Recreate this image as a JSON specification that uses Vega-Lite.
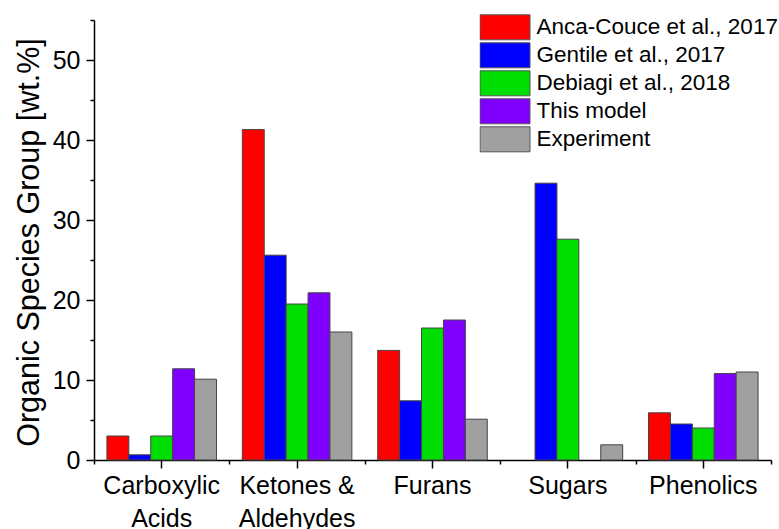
{
  "$schema": "https://vega.github.io/schema/vega-lite/v6.json",
  "width": 677,
  "height": 440,
  "autosize": "none",
  "padding": {"left": 94, "top": 20, "right": 8, "bottom": 69},
  "background": "white",
  "config": {
    "view": {"stroke": null},
    "font": "Liberation Sans",
    "axis": {"grid": false, "domainColor": "black", "tickColor": "black", "labelColor": "black", "titleColor": "black", "domainWidth": 1.5, "tickWidth": 1.5}
  },
  "data": {
    "values": [
      {"group": "Carboxylic Acids", "series": "Anca-Couce et al., 2017", "value": 3.0},
      {"group": "Carboxylic Acids", "series": "Gentile et al., 2017", "value": 0.65},
      {"group": "Carboxylic Acids", "series": "Debiagi et al., 2018", "value": 3.0},
      {"group": "Carboxylic Acids", "series": "This model", "value": 11.4},
      {"group": "Carboxylic Acids", "series": "Experiment", "value": 10.1},
      {"group": "Ketones & Aldehydes", "series": "Anca-Couce et al., 2017", "value": 41.3},
      {"group": "Ketones & Aldehydes", "series": "Gentile et al., 2017", "value": 25.6},
      {"group": "Ketones & Aldehydes", "series": "Debiagi et al., 2018", "value": 19.5},
      {"group": "Ketones & Aldehydes", "series": "This model", "value": 20.9},
      {"group": "Ketones & Aldehydes", "series": "Experiment", "value": 16.0},
      {"group": "Furans", "series": "Anca-Couce et al., 2017", "value": 13.7},
      {"group": "Furans", "series": "Gentile et al., 2017", "value": 7.4},
      {"group": "Furans", "series": "Debiagi et al., 2018", "value": 16.5},
      {"group": "Furans", "series": "This model", "value": 17.5},
      {"group": "Furans", "series": "Experiment", "value": 5.1},
      {"group": "Sugars", "series": "Gentile et al., 2017", "value": 34.6},
      {"group": "Sugars", "series": "Debiagi et al., 2018", "value": 27.6},
      {"group": "Sugars", "series": "Experiment", "value": 1.9},
      {"group": "Phenolics", "series": "Anca-Couce et al., 2017", "value": 5.9},
      {"group": "Phenolics", "series": "Gentile et al., 2017", "value": 4.5},
      {"group": "Phenolics", "series": "Debiagi et al., 2018", "value": 4.0},
      {"group": "Phenolics", "series": "This model", "value": 10.8},
      {"group": "Phenolics", "series": "Experiment", "value": 11.0}
    ]
  },
  "layer": [
    {
      "mark": {"type": "bar", "stroke": "#444444", "strokeWidth": 1},
      "encoding": {
        "x": {
          "field": "group", "type": "nominal",
          "sort": ["Carboxylic Acids", "Ketones & Aldehydes", "Furans", "Sugars", "Phenolics"],
          "scale": {"paddingInner": 0, "paddingOuter": 0},
          "axis": {
            "title": null, "orient": "bottom", "tickSize": 8, "labelFontSize": 25, "labelAngle": 0,
            "labelPadding": 5, "labelLineHeight": 33, "labelBaseline": "top",
            "labelExpr": "datum.value == 'Carboxylic Acids' ? ['Carboxylic', 'Acids'] : datum.value == 'Ketones & Aldehydes' ? ['Ketones &', 'Aldehydes'] : datum.value"
          }
        },
        "xOffset": {
          "field": "series", "type": "nominal",
          "sort": ["Anca-Couce et al., 2017", "Gentile et al., 2017", "Debiagi et al., 2018", "This model", "Experiment"],
          "scale": {"paddingInner": 0, "paddingOuter": 0.59}
        },
        "y": {
          "field": "value", "type": "quantitative",
          "scale": {"domain": [0, 55], "nice": false},
          "axis": {
            "values": [0, 10, 20, 30, 40, 50], "tickSize": 8, "labelFontSize": 25, "labelPadding": 6,
            "title": "Organic Species Group [wt.%]", "titleFontSize": 30.5, "titleFontWeight": "normal",
            "titleX": -65, "titleY": 222, "titleAngle": -90, "titleAlign": "center", "titleBaseline": "middle"
          }
        },
        "color": {
          "field": "series", "type": "nominal",
          "scale": {
            "domain": ["Anca-Couce et al., 2017", "Gentile et al., 2017", "Debiagi et al., 2018", "This model", "Experiment"],
            "range": ["#ff0000", "#0000ff", "#00dd00", "#8000ff", "#a0a0a0"]
          },
          "legend": {
            "title": null, "orient": "none", "legendX": 385.5, "legendY": -6.5, "padding": 0,
            "symbolType": "M-1,-1H3V1H-1Z", "symbolSize": 625, "symbolStrokeColor": "#555555",
            "symbolStrokeWidth": 1, "symbolOpacity": 1, "labelFontSize": 22.5, "labelColor": "black",
            "labelOffset": 31, "labelLimit": 400, "rowPadding": 0, "clipHeight": 27.6
          }
        }
      }
    },
    {
      "mark": {"type": "bar", "opacity": 0},
      "encoding": {
        "x": {
          "field": "group", "type": "nominal",
          "sort": ["Carboxylic Acids", "Ketones & Aldehydes", "Furans", "Sugars", "Phenolics"],
          "axis": {"title": null, "orient": "bottom", "tickBand": "extent", "tickSize": 4, "labels": false, "domain": false}
        },
        "y": {
          "field": "value", "type": "quantitative",
          "axis": {"title": null, "orient": "left", "values": [5, 15, 25, 35, 45, 55], "tickSize": 4, "labels": false, "domain": false}
        }
      }
    }
  ],
  "resolve": {"axis": {"x": "independent", "y": "independent"}}
}
